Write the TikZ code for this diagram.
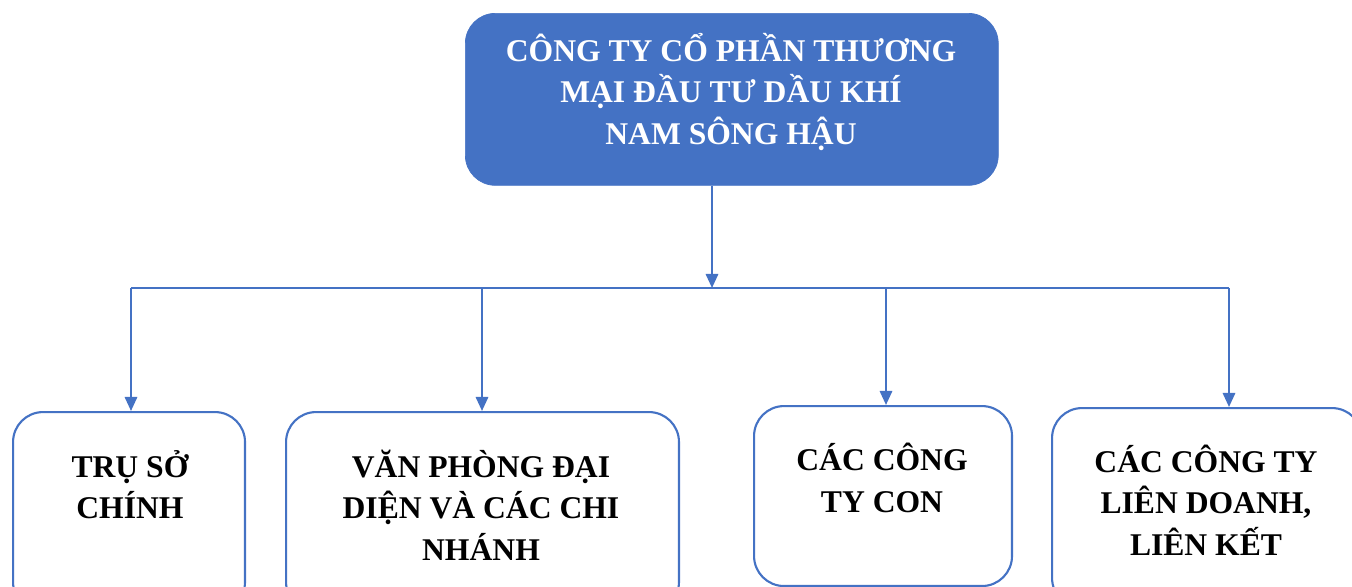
\documentclass[tikz,border=0pt]{standalone}
\usepackage{fontspec}
\setmainfont{Liberation Serif}
\usetikzlibrary{arrows.meta}

\definecolor{ptblue}{HTML}{4472C4}

\tikzset{
    headbox/.style={rectangle, rounded corners=0.6cm, fill=ptblue, draw=ptblue, anchor=north west, inner sep=0pt},
    unitbox/.style={rectangle, rounded corners=0.6cm, draw=ptblue, line width=1.2pt, fill=white, anchor=north west, inner sep=0pt},
    boxtext/.style={align=center, font=\fontsize{18}{23.5}\selectfont\bfseries},
    link/.style={draw=ptblue, line width=1.3pt},
    arr/.style={link, -{Triangle[width=7pt,length=8pt]}}
}

\begin{document}
\begin{tikzpicture}[x=0.02cm, y=-0.02cm]

    \useasboundingbox (0,0) rectangle (1352,586);

    % Company
    \node[headbox, minimum width=10.66cm, minimum height=3.44cm] (head) at (465,13) {};
    \node[boxtext, text=white] (headtxt) at (731,92)
        {CÔNG TY CỔ PHẦN THƯƠNG\\MẠI ĐẦU TƯ DẦU KHÍ\\NAM SÔNG HẬU};

    % Units
    \node[unitbox, minimum width=4.64cm, minimum height=4cm] (tru) at (12,411) {};
    \node[unitbox, minimum width=7.86cm, minimum height=4cm] (vp) at (285,411) {};
    \node[unitbox, minimum width=5.16cm, minimum height=3.6cm] (con) at (753,405) {};
    \node[unitbox, minimum width=6.2cm, minimum height=4cm] (lk) at (1051,407) {};

    \node[boxtext] (trutxt) at (130,485) {TRỤ SỞ\\CHÍNH};
    \node[boxtext] (vptxt) at (481,505) {VĂN PHÒNG ĐẠI\\DIỆN VÀ CÁC CHI\\NHÁNH};
    \node[boxtext] (contxt) at (882,478) {CÁC CÔNG\\TY CON};
    \node[boxtext] (lktxt) at (1206,500) {CÁC CÔNG TY\\LIÊN DOANH,\\LIÊN KẾT};

    % Connectors
    \coordinate (hub) at (712,288);
    \coordinate (b1) at (131,288);
    \coordinate (b2) at (482,288);
    \coordinate (b3) at (886,288);
    \coordinate (b4) at (1229,288);

    \draw[arr] (hub |- head.south) -- (hub);
    \draw[link] (b1) -- (b4);
    \foreach \b/\n in {b1/tru, b2/vp, b3/con, b4/lk}
        \draw[arr] (\b) -- (\b |- \n.north);

\end{tikzpicture}
\end{document}
